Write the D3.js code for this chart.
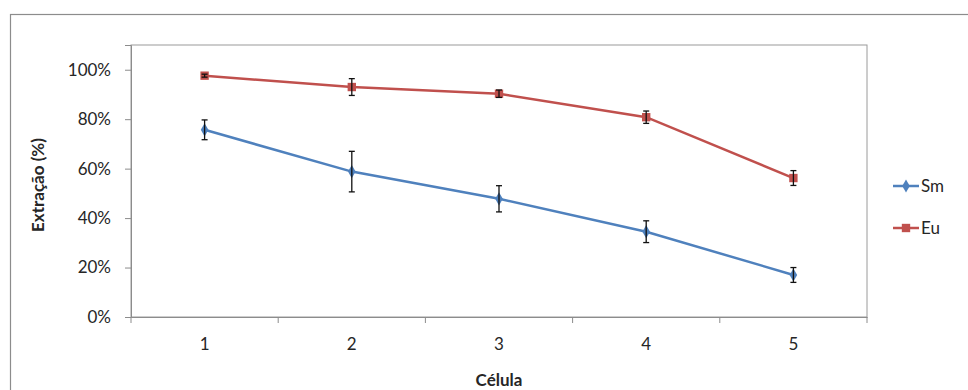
<!DOCTYPE html>
<html>
<head>
<meta charset="utf-8">
<script src="https://cdn.jsdelivr.net/npm/d3@7"></script>
<style>
  body { margin: 0; background: #fff; }
  text { font-family: Lato, "Open Sans", sans-serif; fill: #262626; }
</style>
</head>
<body>
<div id="chart"></div>
<script>
var svgWidth = 968
var svgHeight = 390

// data
var cells = ["1", "2", "3", "4", "5"]
var smValues = [0.757, 0.588, 0.478, 0.345, 0.170]
var smErrors = [0.040, 0.082, 0.053, 0.044, 0.030]
var euValues = [0.976, 0.930, 0.903, 0.808, 0.562]
var euErrors = [0.006, 0.034, 0.015, 0.025, 0.030]
var yTicks = [0, 0.2, 0.4, 0.6, 0.8, 1.0]

var series = [
  { name: "Sm", values: smValues, errors: smErrors, color: "#4F81BD", marker: d3.symbolDiamond, size: 50 },
  { name: "Eu", values: euValues, errors: euErrors, color: "#C0504D", marker: d3.symbolSquare, size: 70 }
]

// plot area
var plot = { left: 131, top: 45, right: 867, bottom: 317 }
var fontSize = 17

var svg = d3.select("#chart")
  .append("svg")
  .attr("width", svgWidth)
  .attr("height", svgHeight)

// outer chart frame
svg.append("rect")
  .attr("x", 10.5).attr("y", 14.5)
  .attr("width", 970).attr("height", 400)
  .attr("fill", "none")
  .attr("stroke", "#8c8c8c")
  .attr("stroke-width", 1.2)

var xScale = d3.scaleBand()
  .domain(cells)
  .range([plot.left, plot.right])

var yScale = d3.scaleLinear()
  .domain([0, 1.1])
  .range([plot.bottom, plot.top])

// plot border
svg.append("rect")
  .attr("x", plot.left).attr("y", plot.top)
  .attr("width", plot.right - plot.left)
  .attr("height", plot.bottom - plot.top)
  .attr("fill", "none")
  .attr("stroke", "#9a9a9a")

// y axis
var yAxis = svg.append("g")
  .attr("transform", `translate(${plot.left},0)`)
  .call(d3.axisLeft(yScale).tickValues(yTicks).tickFormat(d3.format(".0%")).tickSize(6).tickPadding(14))
yAxis.select(".domain").attr("stroke", "#8c8c8c")
yAxis.selectAll(".tick line").attr("stroke", "#8c8c8c")
yAxis.selectAll("text").attr("font-size", fontSize).attr("fill", "#262626")

// x axis: ticks between categories
var xAxis = svg.append("g")
  .attr("transform", `translate(0,${plot.bottom})`)
  .call(d3.axisBottom(xScale).tickSize(0).tickPadding(21))
xAxis.select(".domain").attr("stroke", "#8c8c8c")
xAxis.selectAll("text").attr("font-size", fontSize).attr("fill", "#262626")

var sepTicks = cells.map(c => xScale(c)).concat([plot.right])
xAxis.selectAll(".sep")
  .data(sepTicks)
  .enter()
  .append("line")
  .attr("x1", d => d).attr("x2", d => d)
  .attr("y1", 0).attr("y2", 6)
  .attr("stroke", "#8c8c8c")

var cx = c => xScale(c) + xScale.bandwidth() / 2

var line = d3.line()
  .x((d, i) => cx(cells[i]))
  .y(d => yScale(d))

series.forEach(function(s) {
  var g = svg.append("g")

  g.append("path")
    .attr("d", line(s.values))
    .attr("fill", "none")
    .attr("stroke", s.color)
    .attr("stroke-width", 2.5)

  g.selectAll(".marker")
    .data(s.values)
    .enter()
    .append("path")
    .attr("transform", (d, i) => `translate(${cx(cells[i])},${yScale(d)})`)
    .attr("d", d3.symbol().type(s.marker).size(s.size))
    .attr("fill", s.color)

  // error bars
  s.values.forEach(function(v, i) {
    var x = cx(cells[i])
    var y1 = yScale(v + s.errors[i])
    var y2 = yScale(v - s.errors[i])
    g.append("line").attr("x1", x).attr("x2", x).attr("y1", y1).attr("y2", y2)
      .attr("stroke", "#111").attr("stroke-width", 1.3)
    g.append("line").attr("x1", x - 3).attr("x2", x + 3).attr("y1", y1).attr("y2", y1)
      .attr("stroke", "#111").attr("stroke-width", 1.3)
    g.append("line").attr("x1", x - 3).attr("x2", x + 3).attr("y1", y2).attr("y2", y2)
      .attr("stroke", "#111").attr("stroke-width", 1.3)
  })
})

// legend
var legend = svg.append("g")
series.forEach(function(s, i) {
  var y = 186 + i * 42
  legend.append("line")
    .attr("x1", 893).attr("x2", 919)
    .attr("y1", y).attr("y2", y)
    .attr("stroke", s.color).attr("stroke-width", 2.5)
  legend.append("path")
    .attr("transform", `translate(906,${y})`)
    .attr("d", d3.symbol().type(s.marker).size(s.size))
    .attr("fill", s.color)
  legend.append("text")
    .attr("x", 921).attr("y", y)
    .attr("dy", "0.35em")
    .attr("font-size", fontSize)
    .text(s.name)
})

// axis titles
svg.append("text")
  .attr("transform", `translate(44,${(plot.top + plot.bottom) / 2 + 4}) rotate(-90)`)
  .attr("text-anchor", "middle")
  .attr("font-size", fontSize)
  .attr("font-weight", "bold")
  .text("Extração (%)")

svg.append("text")
  .attr("x", (plot.left + plot.right) / 2)
  .attr("y", 386)
  .attr("text-anchor", "middle")
  .attr("font-size", fontSize)
  .attr("font-weight", "bold")
  .text("Célula")
</script>
</body>
</html>
